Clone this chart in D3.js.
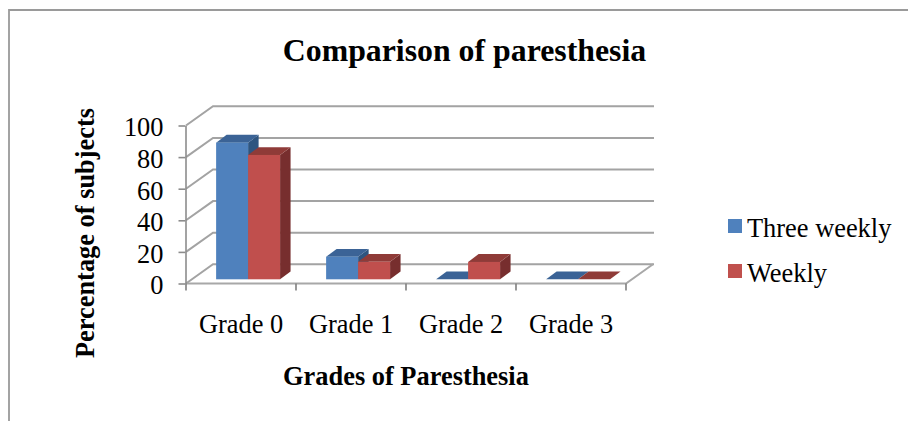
<!DOCTYPE html>
<html>
<head>
<meta charset="utf-8">
<script src="https://cdnjs.cloudflare.com/ajax/libs/d3/7.8.5/d3.min.js"></script>
<style>
  html, body { margin: 0; padding: 0; background: #fff; }
  text { font-family: "Liberation Serif", serif; fill: #000; }
</style>
</head>
<body>
<div id="chart"></div>
<script>
const categories = ["Grade 0", "Grade 1", "Grade 2", "Grade 3"];
const seriesNames = ["Three weekly", "Weekly"];
const threeWeekly = [86.5, 14.3, 0, 0];
const weekly = [78.7, 11.1, 11, 0];
const yTicks = [0, 20, 40, 60, 80, 100];

const width = 908;
const height = 421;
const colors = {
  "Three weekly": { front: "#4f81bd", top: "#3a6496", side: "#2f5480" },
  "Weekly": { front: "#c0504d", top: "#8f3b39", side: "#772f2d" }
};

const svg = d3.select("#chart").append("svg")
  .attr("width", width)
  .attr("height", height)
  .style("display", "block");

const defs = svg.append("defs");
defs.append("filter").attr("id", "soft")
  .append("feGaussianBlur").attr("stdDeviation", 0.6);

// frame, only top and left show in the picture
svg.append("path")
  .attr("d", "M9,421V10H908")
  .attr("fill", "none")
  .attr("stroke", "#9a9a9a")
  .attr("stroke-width", 1.8);

const x = d3.scaleBand().domain(categories).range([186, 626]);
const y = d3.scaleLinear().domain([0, 100]).range([283.5, 125.5]);

// depth of the floor
const depthX = 27;
const depthY = -19.2;

const plot = svg.append("g").attr("filter", "url(#soft)");

// back wall gridlines and their slanted part on the side wall
plot.selectAll("path.grid")
  .data(yTicks)
  .enter()
  .append("path")
  .attr("class", "grid")
  .attr("fill", "none")
  .attr("stroke", "#a3a3a3")
  .attr("stroke-width", 2)
  .attr("d", (d) => `M${x.range()[0]},${y(d)}l${depthX},${depthY}H${x.range()[1] + depthX + 1}`);

// floor
plot.append("path")
  .attr("fill", "none")
  .attr("stroke", "#a8a8a8")
  .attr("stroke-width", 2)
  .attr("d", `M${x.range()[0]},${y(0)}H${x.range()[1]}l${depthX},${depthY}`);

// value axis
const yAxis = d3.axisLeft(y).tickValues(yTicks).tickSize(7).tickPadding(15).tickSizeOuter(0);
const yG = svg.append("g").attr("transform", "translate(185.5,0)").call(yAxis);
yG.select(".domain").attr("stroke", "#8c8c8c").attr("stroke-width", 1.6);
yG.selectAll(".tick line").attr("stroke", "#8c8c8c").attr("stroke-width", 1.6);
yG.selectAll("text")
  .attr("y", 2)
  .style("font-family", '"Liberation Serif", serif')
  .style("font-size", "26.4px")
  .attr("fill", "#000");

// category axis
const xAxis = d3.axisBottom(x).tickSize(0).tickPadding(30.5);
const xG = svg.append("g").attr("transform", `translate(0,${y(0)})`).call(xAxis);
xG.select(".domain").remove();
xG.selectAll("text")
  .style("font-family", '"Liberation Serif", serif')
  .style("font-size", "26.4px")
  .attr("fill", "#000");

plot.selectAll("line.cat")
  .data(x.domain().map((d) => x(d)).concat(x.range()[1]))
  .enter()
  .append("line")
  .attr("class", "cat")
  .attr("x1", (d) => d)
  .attr("x2", (d) => d)
  .attr("y1", y(0))
  .attr("y2", y(0) + 7)
  .attr("stroke", "#7f7f7f")
  .attr("stroke-width", 1.6);

// bars
const inner = d3.scaleBand().domain(seriesNames).range([1.5, x.step() + 1.5]).paddingOuter(0.72);
const rows = categories.flatMap((c, i) => [
  { cat: c, name: seriesNames[0], value: threeWeekly[i] },
  { cat: c, name: seriesNames[1], value: weekly[i] }
]);

const barInsetX = 5.6;
const barInsetY = -4.2;
const barDepthX = 10.5;
const barDepthY = -7.8;
const base = y(0) + barInsetY;

const bars = plot.selectAll("g.bar")
  .data(rows)
  .enter()
  .append("g")
  .attr("class", "bar")
  .attr("transform", (d) => `translate(${x(d.cat) + inner(d.name) + barInsetX},0)`);

const bw = inner.bandwidth();
const topOf = (d) => base - (y(0) - y(d.value));

bars.append("path")
  .attr("fill", (d) => colors[d.name].side)
  .attr("d", (d) => `M${bw},${topOf(d)}V${base}l${barDepthX},${barDepthY}V${topOf(d) + barDepthY}Z`);

bars.append("path")
  .attr("fill", (d) => colors[d.name].top)
  .attr("d", (d) => `M0,${topOf(d)}H${bw}l${barDepthX},${barDepthY}H${barDepthX}Z`);

bars.append("rect")
  .attr("fill", (d) => colors[d.name].front)
  .attr("y", (d) => topOf(d))
  .attr("width", bw)
  .attr("height", (d) => base - topOf(d));

// legend
const legendY = d3.scalePoint().domain(seriesNames).range([226, 271]);
const legend = svg.selectAll("g.legend")
  .data(seriesNames)
  .enter()
  .append("g")
  .attr("class", "legend")
  .attr("transform", (d) => `translate(728,${legendY(d)})`);

legend.append("rect")
  .attr("y", -7)
  .attr("width", 14)
  .attr("height", 14)
  .attr("fill", (d) => colors[d].front);

legend.append("text")
  .attr("x", 19)
  .attr("y", 1)
  .attr("dy", "0.38em")
  .style("font-size", "26.4px")
  .text((d) => d);

// titles
svg.append("text")
  .attr("x", 464.5)
  .attr("y", 61)
  .attr("text-anchor", "middle")
  .style("font-size", "31.8px")
  .style("font-weight", "bold")
  .text("Comparison of paresthesia");

svg.append("text")
  .attr("x", 406)
  .attr("y", 385)
  .attr("text-anchor", "middle")
  .style("font-size", "26.4px")
  .style("font-weight", "bold")
  .text("Grades of Paresthesia");

svg.append("text")
  .attr("transform", "translate(94,233) rotate(-90)")
  .attr("text-anchor", "middle")
  .style("font-size", "26.4px")
  .style("font-weight", "bold")
  .text("Percentage of subjects");
</script>
</body>
</html>
